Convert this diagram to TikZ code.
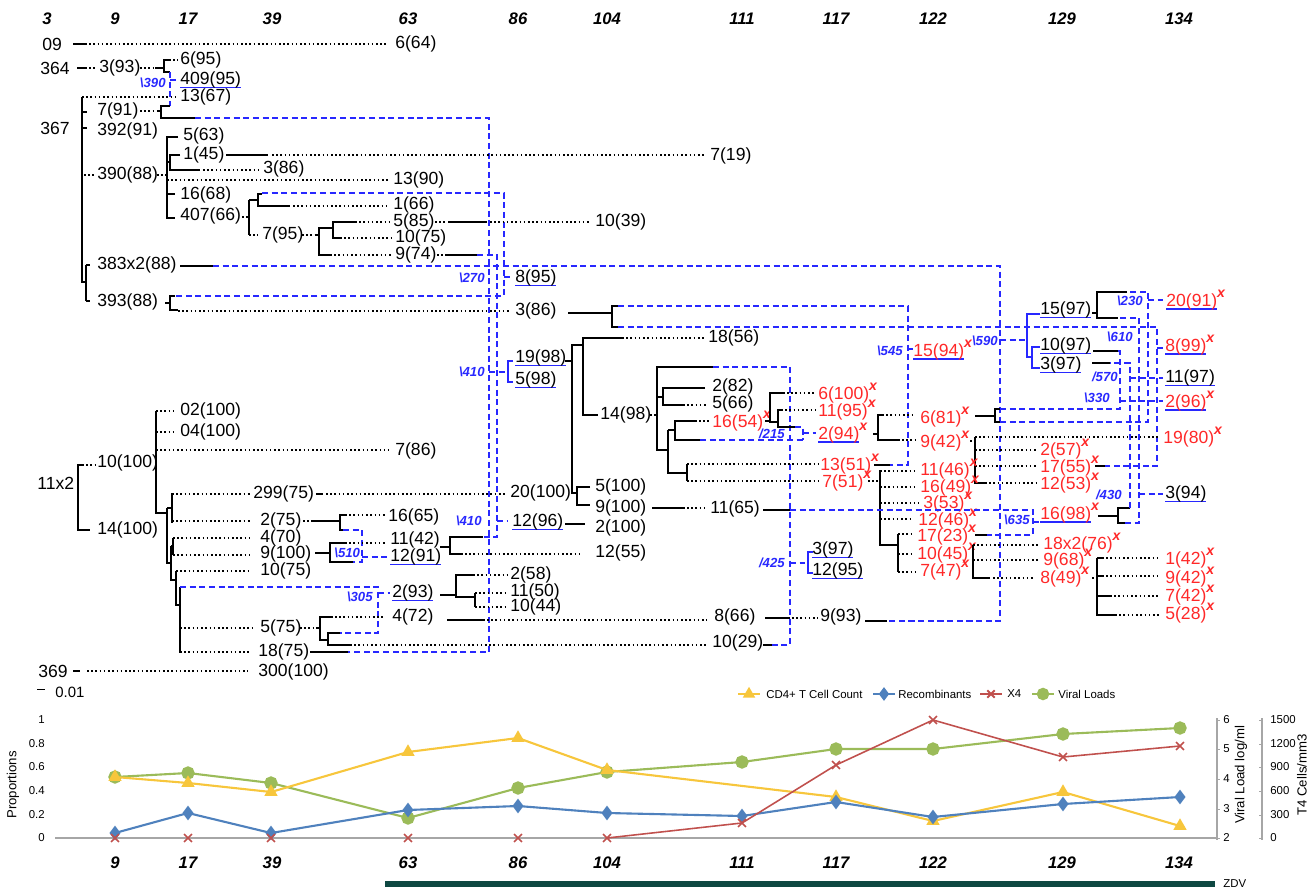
\documentclass[tikz,border=0pt]{standalone}
\usepackage{fontspec}
\setmainfont{Liberation Sans}
\usetikzlibrary{plotmarks}
\definecolor{xred}{RGB}{255,40,40}
\definecolor{xblue}{RGB}{40,40,255}
\definecolor{cyel}{RGB}{247,198,60}
\definecolor{cblu}{RGB}{79,129,189}
\definecolor{cred}{RGB}{192,80,77}
\definecolor{cgrn}{RGB}{155,187,89}
\definecolor{zdv}{RGB}{14,72,66}
\newcommand{\xf}{\raisebox{0.5em}{\fontsize{8}{8}\selectfont\bfseries\itshape x}}
\newcommand{\ulb}[1]{\setbox0\hbox{#1}\rlap{\color{xblue}\rule[-2.2pt]{\wd0}{1pt}}\box0}
\begin{document}
\begin{tikzpicture}[x=0.2mm, y=-0.2mm,
    lbl/.style={anchor=west, inner sep=0pt, font=\fontsize{10}{12}\selectfont},
    xlbl/.style={lbl, text=xred},
    rec/.style={anchor=east, inner sep=0pt, text=xblue, font=\fontsize{7.5}{9}\selectfont\bfseries\itshape},
    wk/.style={inner sep=0pt, font=\fontsize{9.5}{11}\selectfont\bfseries\itshape},
    tk/.style={inner sep=0pt, font=\fontsize{6.5}{7}\selectfont},
    ax/.style={inner sep=0pt, font=\fontsize{7.5}{9}\selectfont},
    lg/.style={anchor=west, inner sep=0pt, font=\fontsize{6.5}{8}\selectfont},
    br/.style={line width=1.1pt},
    dotl/.style={line width=0.9pt, dash pattern=on 0.9pt off 1.5pt},
    rl/.style={xblue, line width=0.7pt, dash pattern=on 3.5pt off 2pt},
    bb/.style={xblue, line width=1.1pt}]
\useasboundingbox (0,0) rectangle (1311,892);

% Sampling weeks
\foreach \px/\wk in {47/3,115/9,188/17,272/39,408/63,518/86,607/104,742/111,836/117,933/122,1062/129,1179/134}
  \node[wk] (top\wk) at (\px,19) {\wk};

% Clades 09 and 364
\node[lbl] (s09) at (42,44) {09};
\draw[br] (73,44) -- (85,44);
\draw[dotl] (85,44) -- (388,44);
\node[lbl] (s6-64) at (395,44) {6(64)};
\node[lbl] (s364) at (40,68) {364};
\draw[br] (77,68) -- (85,68);
\draw[dotl] (85,68) -- (97,68) (140,68) -- (155,68);
\node[lbl] (s3-93) at (99,68) {3(93)};
\draw[br] (155,68) -- (164,68) (169,60) -- (164,60) -- (164,72) -- (170,72);
\draw[dotl] (169,60) -- (178,60);
\node[lbl] (s6-95) at (180,60) {6(95)};
\draw[rl] (170,72) -- (170,106) (170,80) -- (178,80);
\node[rec] (r390) at (166,83) {\textbackslash390};
\node[lbl] (s409-95) at (180,80) {\ulb{409(95)}};
\draw[dotl] (82,97) -- (178,97);
\node[lbl] (s13-67) at (180,97) {13(67)};

% Clade 367
\node[lbl] (s367) at (40,128) {367};
\draw[br] (82,97) -- (82,282) -- (86,282);
\draw[br] (82,112) -- (87,112) (82,128) -- (87,128);
\node[lbl] (s7-91) at (97,111) {7(91)};
\node[lbl] (s392-91) at (97,131) {392(91)};
\draw[dotl] (140,111) -- (157,111);
\draw[br] (157,111) -- (161,111) (170,106) -- (161,106) -- (161,118) -- (195,118);
\draw[rl] (195,118) -- (489,118) -- (489,652) -- (348,652);

% 390(88)
\draw[dotl] (84,175) -- (95,175) (157,175) -- (167,175);
\node[lbl] (s390-88) at (97,175) {390(88)};
\draw[br] (178,137) -- (167,137) -- (167,218) -- (175,218);
\node[lbl] (s5-63) at (183,136) {5(63)};
\draw[br] (167,162) -- (170,162) (180,155) -- (170,155) -- (170,170) -- (200,170);
\node[lbl] (s1-45) at (183,155) {1(45)};
\draw[br] (226,155) -- (268,155);
\draw[dotl] (272,155) -- (705,155);
\node[lbl] (s7-19) at (710,156) {7(19)};
\draw[dotl] (203,170) -- (258,170);
\node[lbl] (s3-86a) at (263,169) {3(86)};
\draw[dotl] (167,180) -- (388,180);
\node[lbl] (s13-90) at (393,180) {13(90)};
\draw[br] (167,194) -- (175,194);
\node[lbl] (s16-68) at (180,195) {16(68)};
\node[lbl] (s407-66) at (180,216) {407(66)};
\draw[dotl] (242,217) -- (249,217);
\draw[br] (249,200) -- (249,235) (249,200) -- (258,200) (262,194) -- (258,194) -- (258,206) -- (290,206);
\draw[rl] (262,193) -- (504,193) -- (504,296) -- (175,296);
\draw[dotl] (293,206) -- (390,206);
\node[lbl] (s1-66) at (393,205) {1(66)};
\draw[dotl] (249,235) -- (258,235);
\node[lbl] (s7-95) at (262,235) {7(95)};
\draw[dotl] (302,235) -- (316,235);
\draw[br] (316,235) -- (319,235) (333,228) -- (319,228) -- (319,255) -- (330,255);
\draw[br] (355,222) -- (333,222) -- (333,238) -- (340,238);
\draw[dotl] (355,222) -- (390,222) (340,238) -- (392,238) (330,255) -- (392,255);
\node[lbl] (s5-85) at (393,222) {5(85)};
\node[lbl] (s10-75a) at (395,238) {10(75)};
\node[lbl] (s9-74) at (395,255) {9(74)};
\draw[dotl] (435,222) -- (447,222) (490,222) -- (590,222);
\draw[br] (448,222) -- (487,222);
\node[lbl] (s10-39) at (595,222) {10(39)};
\draw[dotl] (437,255) -- (444,255);
\draw[br] (445,255) -- (477,255);
\draw[rl] (477,255) -- (497,255) -- (497,537) -- (483,537);

% 383x2(88) and 393(88)
\draw[br] (86,265) -- (86,301) (86,265) -- (90,265) (86,301) -- (90,301);
\node[lbl] (s383) at (97,265) {383x2(88)};
\draw[br] (180,266) -- (213,266);
\draw[rl] (213,266) -- (1000,266) -- (1000,621) -- (887,621);
\node[lbl] (s393) at (97,302) {393(88)};
\draw[br] (165,303) -- (170,303) (175,296) -- (170,296) -- (170,310) -- (178,310);
\draw[dotl] (178,311) -- (510,311);
\node[lbl] (s3-86b) at (515,311) {3(86)};
\node[rec] (r270) at (485,278) {\textbackslash270};
\draw[rl] (504,277) -- (512,277);
\node[lbl] (s8-95) at (515,278) {\ulb{8(95)}};
\draw[br] (568,313) -- (612,313) (618,306) -- (612,306) -- (612,327) -- (618,327);
\draw[rl] (618,306) -- (908,306) -- (908,465) -- (890,465);
\draw[rl] (618,327) -- (1157,327) -- (1157,466) -- (1105,466);

% 19(98) and 5(98)
\node[rec] (r410a) at (485,372) {\textbackslash410};
\draw[rl] (489,372) -- (505,372);
\draw[bb] (513,361) -- (508,361) -- (508,382) -- (513,382);
\node[lbl] (s19-98) at (515,358) {\ulb{19(98)}};
\node[lbl] (s5-98) at (515,380) {\ulb{5(98)}};
\draw[br] (565,361) -- (572,361) (583,345) -- (572,345) -- (572,493) -- (577,493);
\draw[br] (622,338) -- (583,338) -- (583,415) -- (598,415);
\draw[dotl] (622,338) -- (705,338);
\node[lbl] (s18-56) at (708,338) {18(56)};
\node[lbl] (s14-98) at (600,415) {14(98)};
\draw[br] (590,487) -- (577,487) -- (577,505) -- (590,505);
\node[lbl] (s20-100) at (510,493) {20(100)};
\node[lbl] (s5-100) at (595,487) {5(100)};
\node[lbl] (s9-100a) at (595,508) {9(100)};

% 14(98)
\draw[dotl] (650,415) -- (657,415);
\draw[br] (713,367) -- (657,367) -- (657,450) -- (668,450) (657,397) -- (663,397) (705,388) -- (663,388) -- (663,405) -- (683,405);
\draw[rl] (713,367) -- (790,367) -- (790,645) -- (772,645);
\draw[dotl] (683,405) -- (708,405);
\node[lbl] (s2-82) at (712,387) {2(82)};
\node[lbl] (s5-66) at (712,404) {5(66)};
\draw[br] (668,430) -- (668,473) -- (687,473) (668,430) -- (675,430) (697,421) -- (675,421) -- (675,440) -- (700,440);
\draw[rl] (700,440) -- (803,440);
\draw[dotl] (699,421) -- (709,421);
\node[xlbl] (s16-54) at (712,421) {16(54)\xf};
\draw[br] (687,464) -- (687,481);
\draw[dotl] (687,464) -- (818,464) (687,481) -- (818,481);
\node[xlbl] (s13-51) at (820,464) {13(51)\xf};
\node[xlbl] (s7-51) at (822,481) {7(51)\xf};

% 16(54)
\draw[br] (765,421) -- (770,421) (785,393) -- (770,393) -- (770,422) -- (778,422) (781,410) -- (778,410) -- (778,427) -- (795,427);
\draw[dotl] (787,393) -- (815,393) (781,410) -- (815,410);
\node[xlbl] (s6-100) at (818,393) {6(100)\xf};
\node[xlbl] (s11-95) at (818,410) {11(95)\xf};
\draw[rl] (795,427) -- (803,427) -- (803,440) (803,433) -- (816,433);
\node[rec] (r215) at (785,434) {/215};
\node[xlbl] (s2-94) at (818,433) {\ulb{2(94)}\xf};

% 2(94)
\draw[br] (873,434) -- (878,434) (882,415) -- (878,415) -- (878,440) -- (900,440);
\draw[dotl] (882,415) -- (915,415) (902,440) -- (915,440);
\node[xlbl] (s6-81) at (920,417) {6(81)\xf};
\node[xlbl] (s9-42a) at (920,441) {9(42)\xf};
\draw[br] (975,416) -- (995,416) (1000,409) -- (995,409) -- (995,422) -- (1000,422);
\draw[rl] (1000,409) -- (1120,409) -- (1120,351) -- (1118,351);
\draw[rl] (1000,422) -- (1148,422) -- (1148,292) -- (1127,292);

% 9(42)
\draw[dotl] (970,441) -- (975,441);
\draw[br] (975,437) -- (975,483) -- (985,483);
\draw[dotl] (975,437) -- (1160,437) (975,450) -- (1037,450) (975,466) -- (1037,466) (985,483) -- (1037,483);
\node[xlbl] (s19-80) at (1163,437) {19(80)\xf};
\node[xlbl] (s2-57) at (1040,449) {2(57)\xf};
\node[xlbl] (s17-55) at (1040,466) {17(55)\xf};
\node[xlbl] (s12-53) at (1040,483) {12(53)\xf};
\draw[br] (1095,466) -- (1105,466);

% 7(51)
\draw[dotl] (868,481) -- (878,481);
\draw[br] (880,470) -- (880,545) -- (898,545) (898,534) -- (898,572);
\draw[dotl] (880,471) -- (915,471) (880,487) -- (915,487) (880,503) -- (918,503) (880,519) -- (913,519) (898,534) -- (913,534) (898,554) -- (913,554) (898,572) -- (915,572);
\node[xlbl] (s11-46) at (920,469) {11(46)\xf};
\node[xlbl] (s16-49) at (920,486) {16(49)\xf};
\node[xlbl] (s3-53) at (923,502) {3(53)\xf};
\node[xlbl] (s12-46) at (918,519) {12(46)\xf};
\node[xlbl] (s17-23) at (917,535) {17(23)\xf};
\node[xlbl] (s10-45) at (917,553) {10(45)\xf};
\node[xlbl] (s7-47) at (920,570) {7(47)\xf};
\draw[br] (975,535) -- (987,535);
\draw[rl] (790,510) -- (1033,510) -- (1033,535) -- (987,535);
\node[rec] (r635) at (1030,520) {\textbackslash635};
\draw[rl] (1033,522) -- (1040,522);
\node[xlbl] (s16-98) at (1040,513) {\ulb{16(98)}\xf};
\draw[br] (1098,516) -- (1118,516) (1130,508) -- (1118,508) -- (1118,523) -- (1125,523);
\draw[rl] (1130,508) -- (1130,363) -- (1110,363);
\draw[rl] (1125,523) -- (1139,523) -- (1139,318) -- (1118,318);
\node[rec] (r430) at (1122,495) {/430};
\draw[rl] (1139,494) -- (1163,494);
\node[lbl] (s3-94) at (1165,494) {\ulb{3(94)}};

% 10(45) and 8(49)
\draw[br] (973,552) -- (973,552) (973,545) -- (973,578) -- (990,578);
\draw[dotl] (973,545) -- (1040,545) (973,560) -- (1040,560) (993,578) -- (1035,578);
\node[xlbl] (s18x2) at (1043,543) {18x2(76)\xf};
\node[xlbl] (s9-68) at (1043,559) {9(68)\xf};
\node[xlbl] (s8-49) at (1040,577) {8(49)\xf};
\draw[dotl] (1092,578) -- (1097,578);
\draw[br] (1097,558) -- (1097,615) -- (1115,615) (1097,558) -- (1102,558) (1097,576) -- (1102,576) (1097,596) -- (1110,596);
\draw[dotl] (1102,558) -- (1160,558) (1102,576) -- (1160,576) (1110,596) -- (1160,596) (1115,615) -- (1160,615);
\node[xlbl] (s1-42) at (1165,558) {1(42)\xf};
\node[xlbl] (s9-42b) at (1165,577) {9(42)\xf};
\node[xlbl] (s7-42) at (1165,595) {7(42)\xf};
\node[xlbl] (s5-28) at (1165,613) {5(28)\xf};

% 15(94) and the 590 group
\node[rec] (r545) at (903,351) {\textbackslash545};
\draw[rl] (908,349) -- (913,349);
\node[xlbl] (s15-94) at (913,350) {\ulb{15(94)}\xf};
\draw[br] (874,465) -- (890,465);
\node[rec] (r590) at (998,341) {\textbackslash590};
\draw[rl] (1000,340) -- (1027,340);
\draw[bb] (1040,314) -- (1027,314) -- (1027,357) -- (1032,357) (1040,347) -- (1032,347) -- (1032,368) -- (1040,368);
\node[lbl] (s15-97) at (1040,310) {\ulb{15(97)}};
\node[lbl] (s10-97) at (1040,346) {\ulb{10(97)}};
\node[lbl] (s3-97a) at (1040,365) {\ulb{3(97)}};
\draw[br] (1092,313) -- (1097,313) (1127,292) -- (1097,292) -- (1097,318) -- (1118,318);
\draw[br] (1093,351) -- (1118,351) (1092,363) -- (1110,363);

% Right column
\node[rec] (r230) at (1143,301) {\textbackslash230};
\draw[rl] (1148,300) -- (1163,300);
\node[xlbl] (s20-91) at (1166,300) {\ulb{20(91)}\xf};
\node[rec] (r610) at (1133,337) {\textbackslash610};
\draw[rl] (1157,348) -- (1163,348);
\node[xlbl] (s8-99) at (1165,345) {\ulb{8(99)}\xf};
\node[rec] (r570) at (1118,377) {/570};
\draw[rl] (1130,378) -- (1163,378);
\node[lbl] (s11-97) at (1165,378) {\ulb{11(97)}};
\node[rec] (r330) at (1110,398) {\textbackslash330};
\draw[rl] (1120,401) -- (1163,401);
\node[xlbl] (s2-96) at (1165,401) {\ulb{2(96)}\xf};

% Clade 11x2
\node[lbl] (s11x2) at (37,483) {11x2};
\draw[br] (82,465) -- (78,465) -- (78,530) -- (90,530);
\draw[dotl] (82,465) -- (95,465);
\node[lbl] (s10-100) at (97,463) {10(100)};
\node[lbl] (s14-100) at (97,530) {14(100)};
\draw[br] (156,411) -- (156,513) -- (167,513);
\draw[dotl] (156,411) -- (176,411) (156,432) -- (176,432) (156,450) -- (388,450);
\node[lbl] (s02) at (180,411) {02(100)};
\node[lbl] (s04) at (180,432) {04(100)};
\node[lbl] (s7-86) at (395,451) {7(86)};
\draw[br] (167,508) -- (167,563) -- (171,563) (167,508) -- (172,508) (172,493) -- (172,523);
\draw[dotl] (172,494) -- (250,494) (172,521) -- (250,521);
\node[lbl] (s299) at (253,494) {299(75)};
\node[lbl] (s2-75) at (260,521) {2(75)};
\draw[br] (171,546) -- (171,580) -- (176,580) (171,546) -- (173,546) (173,538) -- (173,555);
\draw[dotl] (173,538) -- (250,538) (173,555) -- (250,555);
\node[lbl] (s4-70) at (260,538) {4(70)};
\node[lbl] (s9-100b) at (260,554) {9(100)};
\draw[br] (176,571) -- (176,605) -- (180,605) (180,587) -- (180,653);
\draw[dotl] (176,571) -- (250,571) (180,628) -- (255,628) (180,652) -- (250,652);
\node[lbl] (s10-75b) at (260,571) {10(75)};
\node[lbl] (s5-75) at (260,628) {5(75)};
\node[lbl] (s18-75) at (258,652) {18(75)};
\draw[rl] (180,587) -- (378,587) -- (378,633) -- (340,633);
\node[rec] (r305) at (373,597) {\textbackslash305};
\draw[rl] (378,593) -- (390,593);
\node[lbl] (s2-93) at (392,593) {\ulb{2(93)}};

% 299(75), 2(75) and 9(100)
\draw[br] (316,494) -- (323,494);
\draw[dotl] (326,494) -- (507,494);
\draw[dotl] (303,521) -- (313,521);
\draw[br] (313,521) -- (340,521) (345,515) -- (340,515) -- (340,530) -- (343,530);
\draw[dotl] (345,515) -- (385,515);
\node[lbl] (s16-65) at (388,517) {16(65)};
\draw[rl] (343,530) -- (362,530) -- (362,562) -- (353,562) (362,557) -- (388,557);
\node[rec, anchor=west] (r510) at (334,553) {\textbackslash510};
\node[lbl] (s12-91) at (390,557) {\ulb{12(91)}};
\draw[br] (315,553) -- (330,553) (345,543) -- (330,543) -- (330,562) -- (353,562);
\draw[dotl] (345,543) -- (385,543);
\node[lbl] (s11-42) at (390,540) {11(42)};
\draw[br] (440,547) -- (450,547) (483,537) -- (450,537) -- (450,554) -- (463,554);
\draw[dotl] (465,554) -- (580,554);
\node[lbl] (s12-55) at (595,553) {12(55)};
\node[rec] (r410b) at (482,521) {\textbackslash410};
\draw[rl] (497,521) -- (508,521);
\node[lbl] (s12-96) at (512,522) {\ulb{12(96)}};
\draw[br] (565,524) -- (585,524);
\node[lbl] (s2-100) at (595,528) {2(100)};
\draw[br] (652,508) -- (685,508);
\draw[dotl] (687,508) -- (707,508);
\node[lbl] (s11-65) at (710,509) {11(65)};
\draw[br] (763,510) -- (790,510);

% 5(75), 4(72) and 2(93)
\draw[dotl] (300,628) -- (316,628);
\draw[br] (316,628) -- (320,628) (333,617) -- (320,617) -- (320,640) -- (328,640) (340,633) -- (328,633) -- (328,645) -- (350,645);
\draw[dotl] (335,617) -- (385,617) (350,645) -- (707,645);
\node[lbl] (s4-72) at (392,617) {4(72)};
\node[lbl] (s10-29) at (712,643) {10(29)};
\draw[br] (310,652) -- (348,652);
\draw[br] (447,620) -- (485,620);
\draw[dotl] (487,620) -- (707,620);
\node[lbl] (s8-66) at (714,617) {8(66)};
\draw[br] (765,618) -- (790,618);
\draw[dotl] (792,618) -- (818,618);
\node[lbl] (s9-93) at (820,617) {9(93)};
\draw[br] (865,621) -- (887,621);
\draw[br] (440,595) -- (456,595) (473,575) -- (456,575) -- (456,597) -- (475,597) (475,593) -- (475,607);
\draw[dotl] (473,575) -- (507,575) (475,593) -- (507,593) (475,607) -- (507,607);
\node[lbl] (s2-58) at (510,575) {2(58)};
\node[lbl] (s11-50) at (510,592) {11(50)};
\node[lbl] (s10-44) at (510,607) {10(44)};

% 10(29) and the 425 group
\draw[br] (763,645) -- (772,645);
\node[rec] (r425) at (785,563) {/425};
\draw[rl] (790,563) -- (805,563);
\draw[bb] (813,552) -- (808,552) -- (808,573) -- (813,573);
\node[lbl] (s3-97b) at (812,550) {\ulb{3(97)}};
\node[lbl] (s12-95) at (812,571) {\ulb{12(95)}};

% 369 and scale
\node[lbl] (s369) at (38,671) {369};
\draw[br] (73,671) -- (80,671);
\draw[dotl] (87,671) -- (248,671);
\node[lbl] (s300) at (258,672) {300(100)};
\draw (37,689) -- (45,689);
\node[lbl, font=\fontsize{8.5}{10}\selectfont] (scale) at (55,692) {0.01};

% Chart axes
\draw[gray!70, line width=0.6pt] (55,838) -- (1217,838);
\draw[gray!70, line width=0.6pt] (1217,718) -- (1217,840) (1262,718) -- (1262,840);
\foreach \yy/\v in {720/1,744/0.8,767/0.6,791/0.4,815/0.2,838/0}
  \node[tk, anchor=east] at (45,\yy) {\v};
\foreach \yy/\v in {720/6,749/5,779/4,809/3,838/2}
  {\draw[gray!70] (1217,\yy) -- (1220,\yy); \node[tk, anchor=west] at (1223,\yy) {\v};}
\foreach \yy/\v in {720/1500,744/1200,767/900,791/600,815/300,838/0}
  {\draw[gray!70] (1259,\yy) -- (1262,\yy); \node[tk, anchor=west] at (1270,\yy) {\v};}
\node[ax, rotate=90] (yprop) at (13,785) {Proportions};
\node[ax, rotate=90] (yvl) at (1241,775) {Viral Load log/ml};
\node[ax, rotate=90] (yt4) at (1302,775) {T4 Cells/mm3};

% Legend
\draw[cyel, line width=1.1pt] (738,694) -- (760,694) plot[mark=triangle*, mark size=3pt] coordinates {(749,694)};
\node[lg] (lg1) at (766,694) {CD4+ T Cell Count};
\draw[cblu, line width=1.1pt] (873,694) -- (895,694) plot[mark=diamond*, mark size=3pt] coordinates {(884,694)};
\node[lg] (lg2) at (898,694) {Recombinants};
\draw[cred, line width=1.1pt] (980,694) -- (1002,694) plot[mark=x, mark size=3pt] coordinates {(991,694)};
\node[lg] (lg3) at (1007,694) {X4};
\draw[cgrn, line width=1.1pt] (1032,694) -- (1054,694) plot[mark=*, mark size=3pt] coordinates {(1043,694)};
\node[lg] (lg4) at (1058,694) {Viral Loads};

% Series
\draw[cgrn, line width=1.2pt] plot[mark=*, mark size=3.2pt] coordinates {(115,777) (188,773) (271,783) (408,818) (518,788) (607,772) (742,762) (836,749) (933,749) (1063,734) (1180,728)};
\draw[cyel, line width=1.2pt] plot[mark=triangle*, mark size=3.2pt] coordinates {(115,777) (188,783) (271,792) (408,752) (518,738) (607,770) (836,797) (933,821) (1063,792) (1180,826)};
\draw[cblu, line width=1.2pt] plot[mark=diamond*, mark size=3.2pt] coordinates {(115,833) (188,813) (271,833) (408,810) (518,806) (607,813) (742,816) (836,802) (933,817) (1063,804) (1180,797)};
\draw[cred, line width=0.9pt] plot[only marks, mark=x, mark size=3.2pt] coordinates {(115,838) (188,838) (271,838) (408,838) (518,838)};
\draw[cred, line width=0.9pt] plot[mark=x, mark size=3.2pt] coordinates {(607,838) (742,823) (836,765) (933,720) (1063,757) (1180,746)};

% Week axis and ZDV
\foreach \px/\wk in {115/9,188/17,272/39,408/63,518/86,607/104,742/111,836/117,933/122,1062/129,1179/134}
  \node[wk] (bot\wk) at (\px,863) {\wk};
\draw[zdv, line width=3pt] (385,884) -- (1215,884);
\node[lg] (zdvl) at (1223,884) {ZDV};
\end{tikzpicture}
\end{document}
